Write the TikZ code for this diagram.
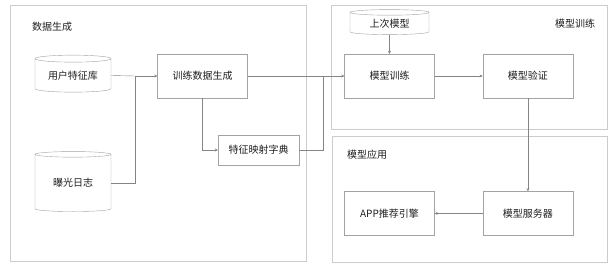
\documentclass[tikz,border=0pt]{standalone}
\usepackage{fontspec}
\setmainfont{Noto Sans CJK SC}
\usetikzlibrary{arrows.meta,positioning,shapes.geometric}

\definecolor{linegray}{HTML}{858585}
\definecolor{boxgray}{HTML}{A3A3A3}
\definecolor{panelgray}{HTML}{CCCCCC}
\definecolor{textgray}{HTML}{1E1E1E}

\begin{document}
\begin{tikzpicture}[
    x=1pt, y=-1pt,
    font=\fontsize{10}{12}\selectfont, text=textgray,
    box/.style={draw=boxgray, fill=white, align=center, minimum width=90pt, minimum height=44pt, inner sep=0pt},
    store/.style={cylinder, shape border rotate=90, shape aspect=0.14, draw=boxgray, fill=white, align=center, inner sep=0pt},
    panel/.style={draw=panelgray},
    title/.style={anchor=west, inner sep=0pt},
    link/.style={-{Stealth[length=3pt, width=3pt]}, draw=linegray},
    wire/.style={draw=linegray}
]
\useasboundingbox (0,0) rectangle (614,268);

% panels
\draw[panel] (10,5) rectangle (306,261);
\draw[panel] (331,5) rectangle (607,129);
\draw[panel] (332,136) rectangle (607,262);
\node[title] (tgen) at (32,27) {数据生成};
\node[title] (ttrain) at (555,24) {模型训练};
\node[title] (tapp) at (347,155) {模型应用};

% data generation
\node[store, minimum width=76pt, minimum height=37pt] (users) at (73,75.5) {用户特征库};
\node[store, minimum width=76pt, minimum height=60pt, below=59pt of users] (log) {曝光日志};
\node[box] (gen) at (202.5,76) {训练数据生成};
\node[box, minimum width=81pt, minimum height=30pt] (dict) at (258.5,150) {特征映射字典};

% model training
\node[box] (train) at (389.5,76) {模型训练};
\node[store, minimum width=79pt, minimum height=25pt, above=19pt of train] (last) {上次模型};
\node[box, right=48pt of train] (valid) {模型验证};

% model application
\node[box, below=93pt of valid] (server) {模型服务器};
\node[box, left=48pt of server] (app) {APP推荐引擎};

\coordinate (j1) at (135,76);
\coordinate (j2) at (323,76);
\draw[wire] (users.east) -- (j1);
\draw[wire] (log.east) -| (j1);
\draw[link] (j1) -- (gen.west);
\draw[link] (gen.south) |- (dict.west);
\draw[link] (gen.east) -- (train.west);
\draw[wire] (dict.east) -| (j2);
\draw[link] (last.south) -- (train.north);
\draw[link] (train) -- (valid);
\draw[link] (valid.south) -- (server.north);
\draw[link] (server) -- (app);
\end{tikzpicture}
\end{document}
